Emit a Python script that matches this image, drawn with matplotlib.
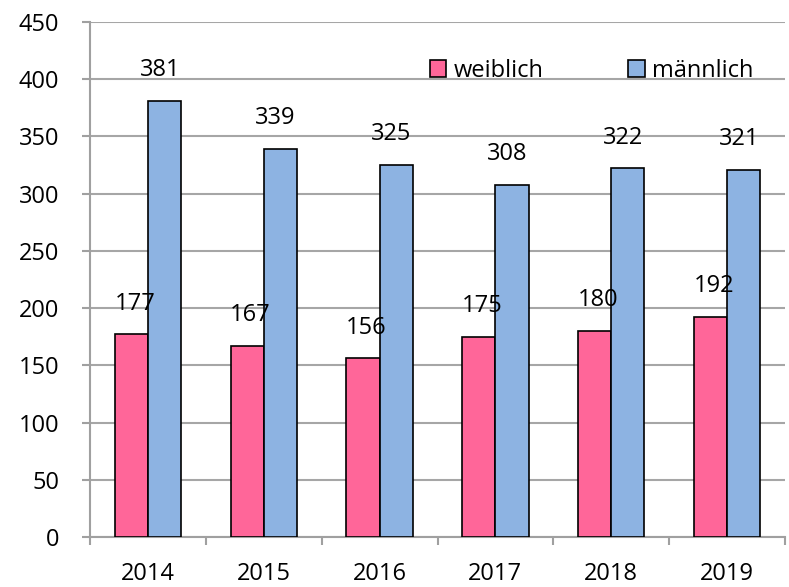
import matplotlib.pyplot as plt
import numpy as np

years = ['2014', '2015', '2016', '2017', '2018', '2019']
weiblich = [177, 167, 156, 175, 180, 192]
maennlich = [381, 339, 325, 308, 322, 321]

plt.rcParams['font.family'] = ['Open Sans', 'DejaVu Sans']

fig = plt.figure(figsize=(7.89, 5.87), dpi=100)
ax = fig.add_axes([90 / 789, 50 / 587, 695 / 789, 515 / 587])

x = np.arange(len(years))
w = 0.286
pink = '#ff6699'
blue = '#8db3e2'
ax.bar(x - w / 2, weiblich, w, color=pink, edgecolor='black', linewidth=1.2, label='weiblich', zorder=3)
ax.bar(x + w / 2, maennlich, w, color=blue, edgecolor='black', linewidth=1.2, label='männlich', zorder=3)

fs = 17
for i in range(len(years)):
    ax.text(x[i] - w / 2 + 0.03, weiblich[i] + 27, str(weiblich[i]), ha='center', va='center', fontsize=fs)
    ax.text(x[i] + w / 2 - 0.04, maennlich[i] + 27, str(maennlich[i]), ha='center', va='center', fontsize=fs)

ax.set_xlim(-0.5, len(years) - 0.5)
ax.set_ylim(0, 450)
ax.set_yticks(range(0, 451, 50))
ax.set_xticks(x)
ax.set_xticklabels(years)
ax.set_xticks(np.arange(-0.5, len(years)), minor=True)
ax.tick_params(axis='x', which='major', length=0, pad=18, labelsize=fs)
ax.tick_params(axis='x', which='minor', length=6, width=1.5, color='#a0a0a0', direction='out')
ax.tick_params(axis='y', length=6, width=1.5, color='#a0a0a0', labelsize=fs, pad=16)

ax.grid(axis='y', color='#a6a6a6', linewidth=1.5, zorder=0)
for s in ['top', 'right']:
    ax.spines[s].set_visible(False)
for s in ['left', 'bottom']:
    ax.spines[s].set_color('#a0a0a0')
    ax.spines[s].set_linewidth(1.5)

ax.legend(loc='upper right', bbox_to_anchor=(0.985, 0.97), ncol=2, frameon=False, fontsize=fs,
          handlelength=0.7, handleheight=0.7, handletextpad=0.3, columnspacing=3.6)

fig.savefig('out.png', dpi=100)
